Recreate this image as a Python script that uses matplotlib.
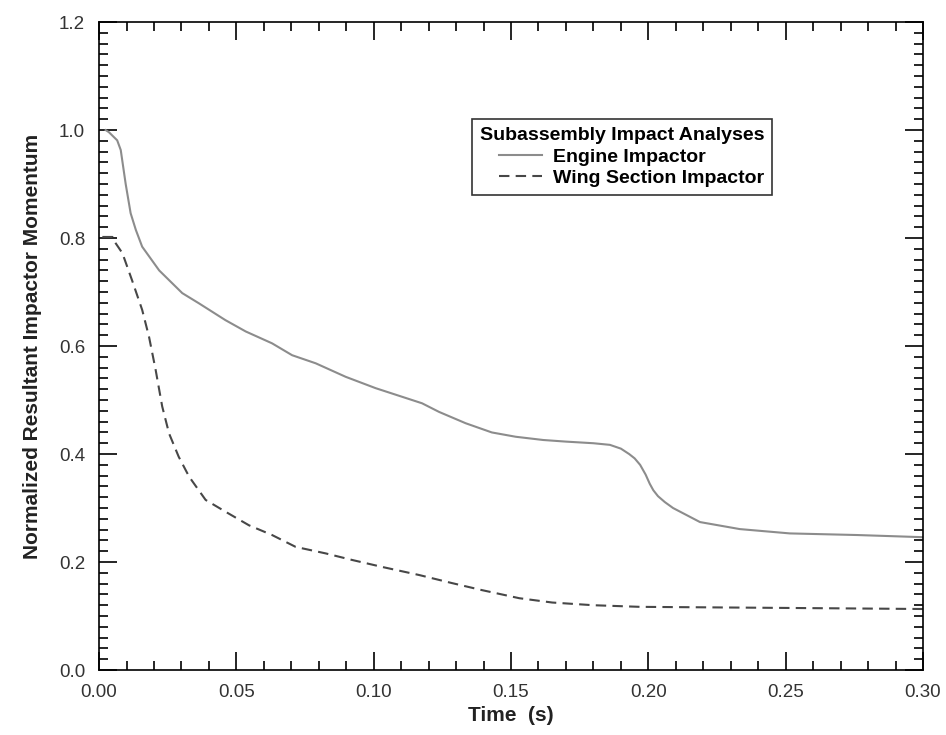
import numpy as np
import matplotlib
matplotlib.use("Agg")
import matplotlib.pyplot as plt
from matplotlib.ticker import MultipleLocator

plt.rcParams['font.family'] = ['Liberation Sans', 'DejaVu Sans']

# Engine impactor (solid)
engine_t = [0.0024, 0.0036, 0.0066, 0.0079, 0.0097, 0.0115, 0.0134, 0.0157, 0.0219,
            0.0303, 0.0364, 0.046, 0.0534, 0.063, 0.0703, 0.0789, 0.0898, 0.1007,
            0.1176, 0.1238, 0.1335, 0.143, 0.1517, 0.1617, 0.17, 0.18, 0.186, 0.19,
            0.193, 0.195, 0.197, 0.199, 0.2005, 0.2018, 0.2035, 0.206, 0.209, 0.2188,
            0.2333, 0.2515, 0.276, 0.30]
engine_v = [1.0, 0.996, 0.981, 0.963, 0.90, 0.846, 0.815, 0.784, 0.74,
            0.698, 0.679, 0.648, 0.627, 0.605, 0.583, 0.568, 0.543, 0.522,
            0.494, 0.478, 0.457, 0.44, 0.432, 0.426, 0.423, 0.42, 0.417, 0.41,
            0.40, 0.392, 0.38, 0.362, 0.345, 0.333, 0.322, 0.311, 0.30, 0.274,
            0.261, 0.253, 0.25, 0.246]

# Wing section impactor (dashed)
wing_t = [0.0012, 0.0049, 0.0061, 0.0085, 0.012, 0.0157, 0.0182, 0.0206, 0.023,
          0.0255, 0.029, 0.0328, 0.0388, 0.0461, 0.0546, 0.063, 0.0716, 0.0825,
          0.092, 0.103, 0.1165, 0.1285, 0.1394, 0.153, 0.165, 0.18, 0.197, 0.25, 0.30]
wing_v = [0.802, 0.802, 0.79, 0.772, 0.722, 0.667, 0.617, 0.556, 0.488,
          0.438, 0.395, 0.358, 0.315, 0.293, 0.268, 0.25, 0.228, 0.216,
          0.204, 0.191, 0.176, 0.161, 0.148, 0.133, 0.125, 0.12, 0.117, 0.115, 0.113]

fig = plt.figure(figsize=(9.46, 7.35), dpi=100)
ax = fig.add_axes([0.1047, 0.0884, 0.871, 0.8816])

ax.plot(engine_t, engine_v, color='#8c8c8c', lw=1.5, label='Engine Impactor')
ax.plot(wing_t, wing_v, color='#474747', lw=1.5, ls=(0, (5, 3)), label='Wing Section Impactor')

ax.set_xlim(0, 0.30)
ax.set_ylim(0, 1.2)
ax.xaxis.set_major_locator(MultipleLocator(0.05))
ax.xaxis.set_minor_locator(MultipleLocator(0.01))
ax.yaxis.set_major_locator(MultipleLocator(0.2))
ax.yaxis.set_minor_locator(MultipleLocator(0.02))
ax.xaxis.set_major_formatter(plt.FuncFormatter(lambda v, p: f"{v:.2f}"))
ax.yaxis.set_major_formatter(plt.FuncFormatter(lambda v, p: f"{v:.1f}"))

ax.tick_params(which='both', direction='in', top=True, right=True, labelsize=13.5,
               color='black', width=1.2, labelcolor='#333333')
ax.tick_params(which='major', length=13, pad=10)
ax.tick_params(which='minor', length=6.5)
for s in ax.spines.values():
    s.set_linewidth(1.2)

ax.set_xlabel('Time  (s)', fontsize=15, fontweight='bold', labelpad=4, color='#222222')
ax.set_ylabel('Normalized Resultant Impactor Momentum', fontsize=15, fontweight='bold',
              labelpad=12, color='#222222')

leg = ax.legend(title='Subassembly Impact Analyses', loc='upper left',
                bbox_to_anchor=(0.4527, 0.850), borderaxespad=0, fontsize=14,
                handlelength=2.2, frameon=True, fancybox=False, edgecolor='black',
                borderpad=0.4, labelspacing=0.2, handletextpad=0.6, alignment='right')
leg.get_title().set_fontweight('bold')
leg.get_title().set_fontsize(14)
for t in leg.get_texts():
    t.set_fontweight('bold')
leg.get_frame().set_linewidth(1.2)

fig.savefig('out.png', dpi=100)
